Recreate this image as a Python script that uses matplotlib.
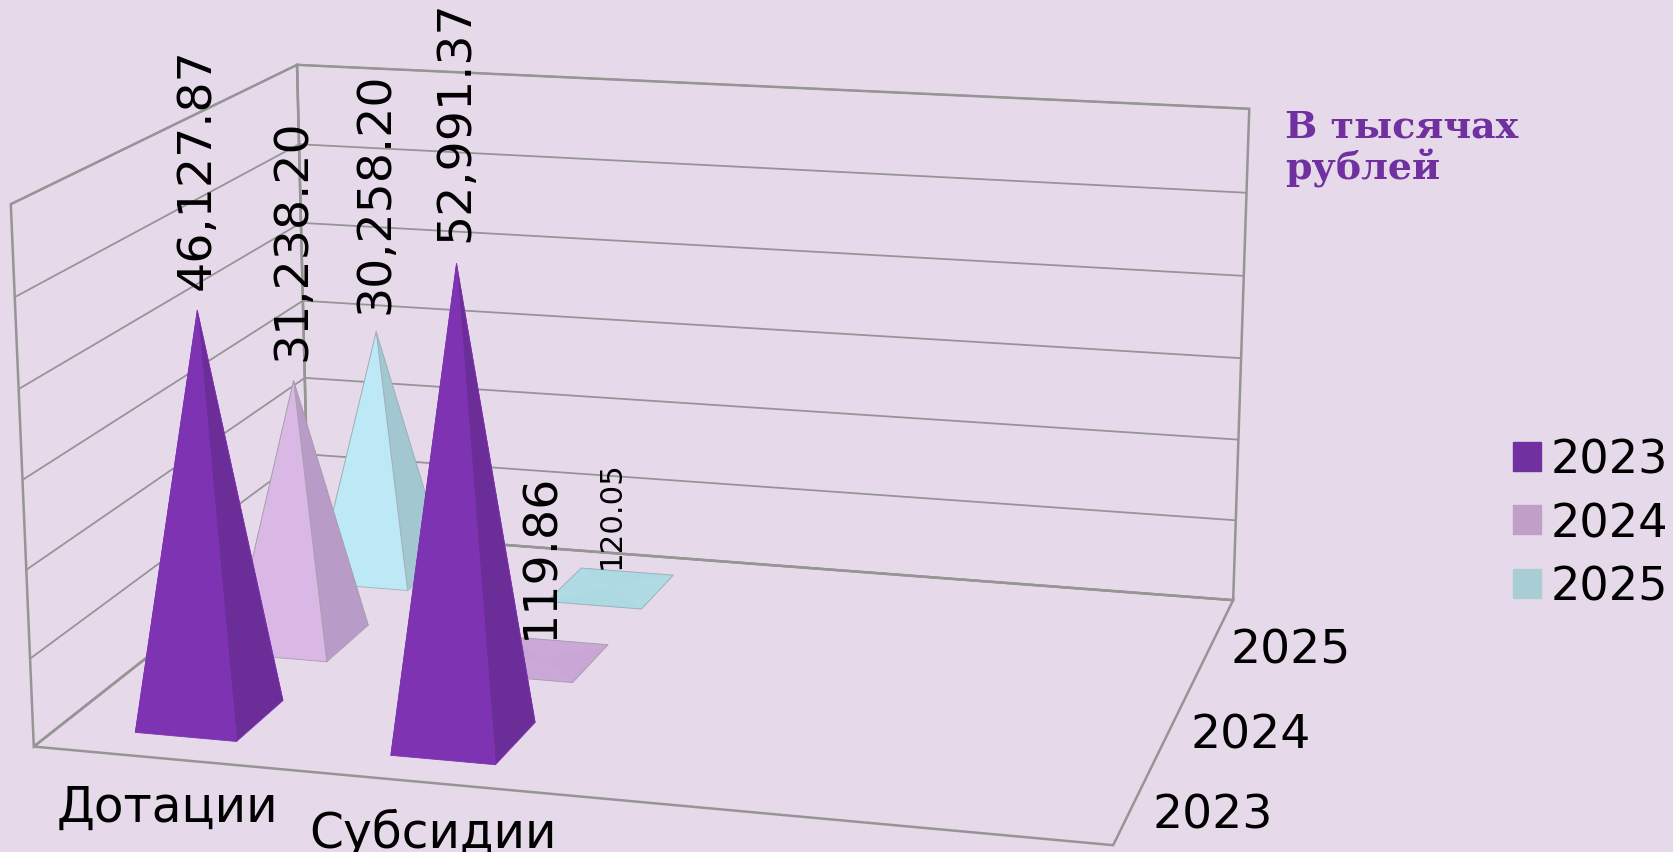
import numpy as np
import matplotlib
matplotlib.use("Agg")
import matplotlib.pyplot as plt
from mpl_toolkits.mplot3d import proj3d
from mpl_toolkits.mplot3d.art3d import Poly3DCollection
from matplotlib.patches import Patch

categories = ["Дотации", "Субсидии"]
years = ["2023", "2024", "2025"]
v2023 = [46127.87, 52991.37]
v2024 = [31238.20, 119.86]
v2025 = [30258.20, 120.05]
labels2023 = ["46,127.87", "52,991.37"]
labels2024 = ["31,238.20", "119.86"]
labels2025 = ["30,258.20", "120.05"]
legend_colors = ["#7030A0", "#C0A0C8", "#A9CDD5"]
front_colors = ["#7E33B2", "#D9B8E5", "#BDE8F5"]
side_colors = ["#6B2D98", "#B89BC6", "#A2C7D0"]
flat_colors = ["#7E33B2", "#CBA8D7", "#ADD9E2"]
flat_colors2 = ["#7E33B2", "#C9A6D5", "#AFDBE4"]
edge_colors = ["#7E33B2", "#A8A0AC", "#A0B0B8"]
bg = "#E6DAEA"
frame = "#959595"

fig = plt.figure(figsize=(16.73, 8.53), dpi=100, facecolor=bg)
# square axes, camera fitted to the frame of the picture
ax = fig.add_axes([-37.16 / 1673, -265.1 / 853, 1365.65 / 1673, 1365.65 / 853], projection="3d")
ax.set_xlim(0, 4, view_margin=0)
ax.set_ylim(0, 3, view_margin=0)
ax.set_zlim(0, 60000, view_margin=0)
ax.view_init(elev=14.677, azim=-74.6175, roll=0.1525)
ax.set_proj_type("persp", focal_length=0.576)
ax.set_box_aspect((1.967, 1.449, 1))
ax.patch.set_alpha(0)
ax.computed_zorder = False

for a in (ax.xaxis, ax.yaxis, ax.zaxis):
    a.pane.fill = False
    a.pane.set_closed(True)
    a.pane.set_alpha(1)
    a.pane.set_edgecolor(frame)
    a.pane.set_linewidth(1.8)
    a.line.set_color((0, 0, 0, 0))
    a._axinfo["grid"].update(color=frame, linewidth=1.3, linestyle="-")
ax.set_xticks([])
ax.set_yticks([])
ax.set_zticks(np.arange(0, 60001, 10000))
ax.set_zticklabels([])
ax.tick_params(axis="z", color=(0, 0, 0, 0))


def pyramid(x, y, h, j, z):
    a, b = 0.2, 0.25
    l, r, n, f = x - a, x + a, y - b, y + b
    top = (x, y, h)
    faces = [[(l, f, 0), (r, f, 0), top], [(l, n, 0), (l, f, 0), top],
             [(r, n, 0), (r, f, 0), top], [(l, n, 0), (r, n, 0), top]]
    if h < 1000:
        # almost nothing: a flat square, no ridges
        c1, c2 = flat_colors[j], flat_colors2[j]
        pc = Poly3DCollection(faces, facecolors=[c1, c2, c2, c1], edgecolors=[c1, c2, c2, c1], linewidths=0.3,
                              zsort="average", zorder=z)
        ax.add_collection3d(pc)
        ax.plot([l, r, r, l, l], [n, n, f, f, n], [0, 0, 0, 0, 0], color=edge_colors[j], lw=0.7, zorder=z + 0.5)
    else:
        pc = Poly3DCollection(faces, facecolors=[front_colors[j], front_colors[j], side_colors[j], front_colors[j]],
                              edgecolors=edge_colors[j], linewidths=0.6, zsort="average", zorder=z)
        ax.add_collection3d(pc)


def put_text(x, y, z, s, **kw):
    # plain 2D text at the projected point, 3D text can't stay exactly vertical
    u, v, _ = proj3d.proj_transform(x, y, z, ax.get_proj())
    ax.text2D(u, v, s, transform=ax.transData, zorder=50, **kw)


values = [v2023, v2024, v2025]
texts = [labels2023, labels2024, labels2025]
z = 10
for j in (2, 1, 0):
    for i in (0, 1):
        pyramid(i + 0.5, j + 0.5, values[j][i], j, z)
        z += 1

for j in range(3):
    for i in range(2):
        size = 22.2 if texts[j][i] == "120.05" else 34.2
        put_text(i + 0.5, j + 0.5, values[j][i] + 2400, texts[j][i], rotation=90, fontsize=size,
                 ha="center", va="bottom")

for i, name in enumerate(categories):
    put_text(i + 0.64, -0.3, -2100, name, fontsize=35, ha="center", va="center")
# year labels sit evenly on the screen, not evenly in depth
year_pos = [0.5, 1.42, 2.5]
for j, name in enumerate(years):
    put_text(4.06, year_pos[j], -1700, name, fontsize=34, ha="left", va="center")

fig.text(1285 / 1673, 1 - 148 / 853, "В тысячах\nрублей", family="DejaVu Serif", weight="bold",
         fontsize=27.4, color="#7030A0", ha="left", va="center", linespacing=1.1)

handles = [Patch(color=c, label=y) for c, y in zip(legend_colors, years)]
fig.legend(handles=handles, loc="center right", bbox_to_anchor=(1.0, 0.385), frameon=False, fontsize=33.3,
           handlelength=0.6, handleheight=0.58, handletextpad=0.22, labelspacing=0.4, borderpad=0, borderaxespad=0.1)

fig.savefig("out.png", dpi=100, facecolor=bg)
